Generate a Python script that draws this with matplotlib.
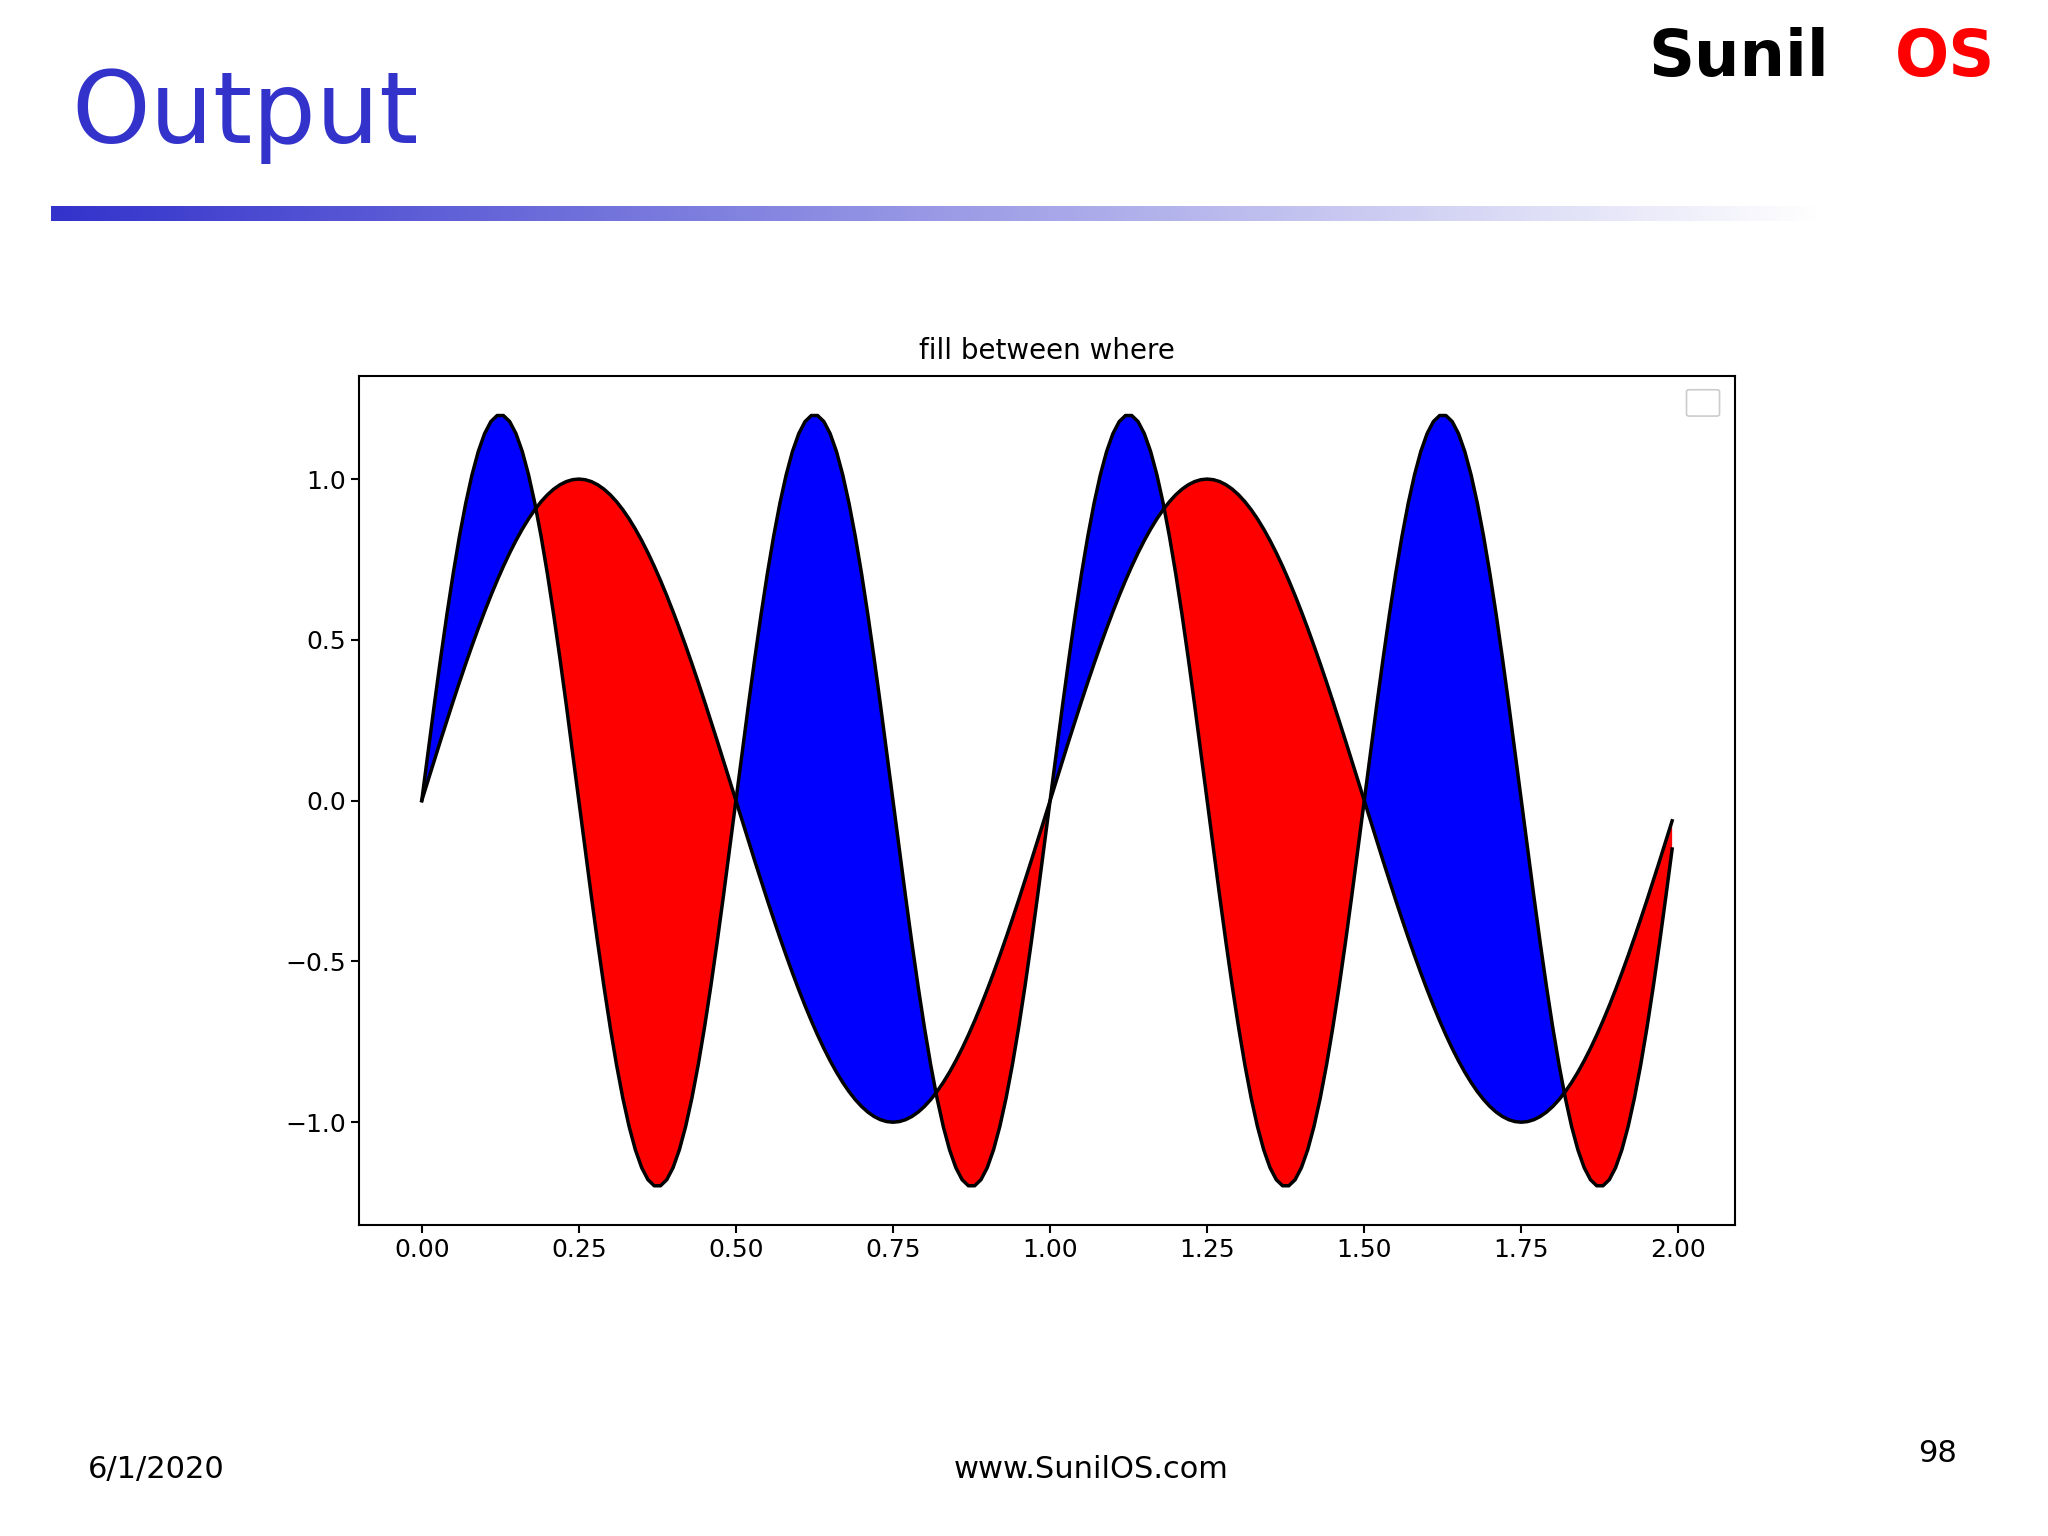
import numpy as np
import matplotlib
matplotlib.use("Agg")
import matplotlib.pyplot as plt
from matplotlib.patches import FancyBboxPatch

# data (curve parameters)
x_start, x_stop, x_step = 0.0, 2.0, 0.01
amp1, period1 = 1.0, 1.0
amp2, period2 = 1.2, 0.5
xticks = [0.00, 0.25, 0.50, 0.75, 1.00, 1.25, 1.50, 1.75, 2.00]
yticks = [-1.0, -0.5, 0.0, 0.5, 1.0]
title = "fill between where"

x = np.arange(x_start, x_stop, x_step)
y1 = amp1 * np.sin(2 * np.pi * x / period1)
y2 = amp2 * np.sin(2 * np.pi * x / period2)

fig = plt.figure(figsize=(20.48, 15.36), dpi=100)
fig.patch.set_facecolor("white")

# slide decorations
fig.text(0.035, 0.925, "Output", color="#3333CC", fontsize=72, va="center", ha="left")
grad = np.linspace(0, 1, 512).reshape(1, -1)
gax = fig.add_axes([0.025, 0.856, 0.865, 0.010])
from matplotlib.colors import LinearSegmentedColormap
cmap = LinearSegmentedColormap.from_list("g", ["#3333CC", "#FFFFFF"])
gax.imshow(grad, aspect="auto", cmap=cmap)
gax.axis("off")
fig.text(0.805, 0.962, "Sunil", color="black", fontsize=46, fontweight="heavy", va="center", ha="left")
fig.text(0.925, 0.962, "OS", color="red", fontsize=46, fontweight="heavy", va="center", ha="left")
fig.text(0.043, 0.043, "6/1/2020", fontsize=22, va="center")
fig.text(0.533, 0.043, "www.SunilOS.com", fontsize=22, va="center", ha="center")
fig.text(0.946, 0.054, "98", fontsize=22, va="center", ha="center")

ax = fig.add_axes([0.1754, 0.2024, 0.6716, 0.5527])
ax.plot(x, y1, color="black", lw=2.5)
ax.plot(x, y2, color="black", lw=2.5)
ax.fill_between(x, y1, y2, where=y2 >= y1, facecolor="blue", interpolate=True)
ax.fill_between(x, y1, y2, where=y2 <= y1, facecolor="red", interpolate=True)
ax.set_title(title, fontsize=20, pad=12)
ax.set_xticks(xticks)
ax.set_xticklabels([f"{t:.2f}" for t in xticks])
ax.set_yticks(yticks)
ax.set_xlim(-0.0995, 2.0895)
ax.set_ylim(-1.32, 1.32)
ax.tick_params(labelsize=18, width=1.5, length=6)
for s in ax.spines.values():
    s.set_linewidth(1.5)
ax.add_patch(FancyBboxPatch((0.967, 0.955), 0.02, 0.027, boxstyle="round,pad=0.002",
                            transform=ax.transAxes, facecolor="white", edgecolor="#cccccc", lw=1.2))

fig.savefig("out.png", dpi=100)
